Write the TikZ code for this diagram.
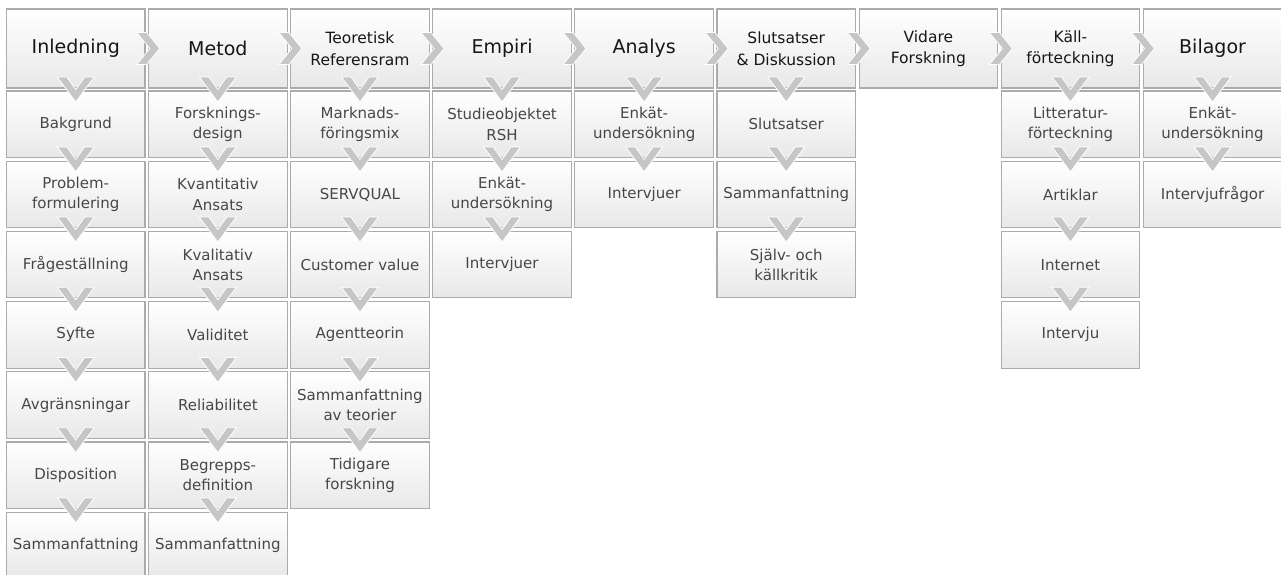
\documentclass[tikz,border=0pt]{standalone}
\usepackage{fontspec}
\setmainfont{DejaVu Sans}
\definecolor{bordergray}{HTML}{ABABAB}
\definecolor{boxbottom}{HTML}{E8E8E8}
\definecolor{chevgray}{HTML}{C6C6C6}
\definecolor{headtext}{HTML}{161616}
\definecolor{subtext}{HTML}{474747}
\newcommand\px[1]{75.75+142.1*(#1-1)}
\newcommand\py[1]{124.25+70.2*(#1-1)}
\newcommand\mydown[2]{\path (#1.south) -- (#2.north) coordinate[midway] (tmp); \pic at (tmp) {vchev};}
\newcommand\myright[2]{\path (#1.east) -- (#2.west) coordinate[midway] (tmp); \pic at (tmp) {rchev};}
\begin{document}
\begin{tikzpicture}[x=1pt,y=-1pt,
  box/.style={draw=bordergray, line width=1.1pt, top color=white, bottom color=boxbottom,
    minimum width=138.5pt, minimum height=66.5pt, inner sep=0pt, align=center,
    text=subtext, font=\fontsize{15}{20.5}\selectfont},
  head/.style={box, minimum height=79pt, text=headtext, font=\fontsize{19}{22}\selectfont},
  head2/.style={head, font=\fontsize{15.5}{21.5}\selectfont},
  chev/.style={fill=chevgray, draw=white, line width=0.8pt, line join=miter},
  vchev/.pic={\path[chev] (-18.5,-12.5)--(-9,-12.5)--(0,0)--(9,-12.5)--(18.5,-12.5)--(0,12.5)--cycle;},
  rchev/.pic={\path[chev] (-10,-16)--(0,-16)--(13,0)--(0,16)--(-10,16)--(3,0)--cycle;}
]
\useasboundingbox[fill=white] (0,0) rectangle (1281,574);
% headers
\node[head]  (h1) at ({\px{1}},48.5) {Inledning};
\node[head]  (h2) at ({\px{2}},48.5) {Metod};
\node[head2] (h3) at ({\px{3}},48.5) {Teoretisk\\Referensram};
\node[head]  (h4) at ({\px{4}},48.5) {Empiri};
\node[head]  (h5) at ({\px{5}},48.5) {Analys};
\node[head2] (h6) at ({\px{6}},48.5) {Slutsatser\\\& Diskussion};
\node[head2] (h7) at ({\px{7}},48.5) {Vidare\\Forskning};
\node[head2] (h8) at ({\px{8}},48.5) {Käll-\\förteckning};
\node[head]  (h9) at ({\px{9}},48.5) {Bilagor};
% column 1
\node[box] (a1) at ({\px{1}},{\py{1}}) {Bakgrund};
\node[box] (a2) at ({\px{1}},{\py{2}}) {Problem-\\formulering};
\node[box] (a3) at ({\px{1}},{\py{3}}) {Frågeställning};
\node[box] (a4) at ({\px{1}},{\py{4}}) {Syfte};
\node[box] (a5) at ({\px{1}},{\py{5}}) {Avgränsningar};
\node[box] (a6) at ({\px{1}},{\py{6}}) {Disposition};
\node[box] (a7) at ({\px{1}},{\py{7}}) {Sammanfattning};
% column 2
\node[box] (b1) at ({\px{2}},{\py{1}}) {Forsknings-\\design};
\node[box] (b2) at ({\px{2}},{\py{2}}) {Kvantitativ\\Ansats};
\node[box] (b3) at ({\px{2}},{\py{3}}) {Kvalitativ\\Ansats};
\node[box] (b4) at ({\px{2}},{\py{4}}) {Validitet};
\node[box] (b5) at ({\px{2}},{\py{5}}) {Reliabilitet};
\node[box] (b6) at ({\px{2}},{\py{6}}) {Begrepps-\\definition};
\node[box] (b7) at ({\px{2}},{\py{7}}) {Sammanfattning};
% column 3
\node[box] (c1) at ({\px{3}},{\py{1}}) {Marknads-\\föringsmix};
\node[box] (c2) at ({\px{3}},{\py{2}}) {SERVQUAL};
\node[box] (c3) at ({\px{3}},{\py{3}}) {Customer value};
\node[box] (c4) at ({\px{3}},{\py{4}}) {Agentteorin};
\node[box] (c5) at ({\px{3}},{\py{5}}) {Sammanfattning\\av teorier};
\node[box] (c6) at ({\px{3}},{\py{6}}) {Tidigare\\forskning};
% column 4
\node[box] (d1) at ({\px{4}},{\py{1}}) {Studieobjektet\\RSH};
\node[box] (d2) at ({\px{4}},{\py{2}}) {Enkät-\\undersökning};
\node[box] (d3) at ({\px{4}},{\py{3}}) {Intervjuer};
% column 5
\node[box] (e1) at ({\px{5}},{\py{1}}) {Enkät-\\undersökning};
\node[box] (e2) at ({\px{5}},{\py{2}}) {Intervjuer};
% column 6
\node[box] (f1) at ({\px{6}},{\py{1}}) {Slutsatser};
\node[box] (f2) at ({\px{6}},{\py{2}}) {Sammanfattning};
\node[box] (f3) at ({\px{6}},{\py{3}}) {Själv- och\\källkritik};
% column 8
\node[box] (g1) at ({\px{8}},{\py{1}}) {Litteratur-\\förteckning};
\node[box] (g2) at ({\px{8}},{\py{2}}) {Artiklar};
\node[box] (g3) at ({\px{8}},{\py{3}}) {Internet};
\node[box] (g4) at ({\px{8}},{\py{4}}) {Intervju};
% column 9
\node[box] (k1) at ({\px{9}},{\py{1}}) {Enkät-\\undersökning};
\node[box] (k2) at ({\px{9}},{\py{2}}) {Intervjufrågor};
% right chevrons
\myright{h1}{h2}\myright{h2}{h3}\myright{h3}{h4}\myright{h4}{h5}
\myright{h5}{h6}\myright{h6}{h7}\myright{h7}{h8}\myright{h8}{h9}
% down chevrons
\mydown{h1}{a1}\mydown{a1}{a2}\mydown{a2}{a3}\mydown{a3}{a4}\mydown{a4}{a5}\mydown{a5}{a6}\mydown{a6}{a7}
\mydown{h2}{b1}\mydown{b1}{b2}\mydown{b2}{b3}\mydown{b3}{b4}\mydown{b4}{b5}\mydown{b5}{b6}\mydown{b6}{b7}
\mydown{h3}{c1}\mydown{c1}{c2}\mydown{c2}{c3}\mydown{c3}{c4}\mydown{c4}{c5}\mydown{c5}{c6}
\mydown{h4}{d1}\mydown{d1}{d2}\mydown{d2}{d3}
\mydown{h5}{e1}\mydown{e1}{e2}
\mydown{h6}{f1}\mydown{f1}{f2}\mydown{f2}{f3}
\mydown{h8}{g1}\mydown{g1}{g2}\mydown{g2}{g3}\mydown{g3}{g4}
\mydown{h9}{k1}\mydown{k1}{k2}
\end{tikzpicture}
\end{document}
